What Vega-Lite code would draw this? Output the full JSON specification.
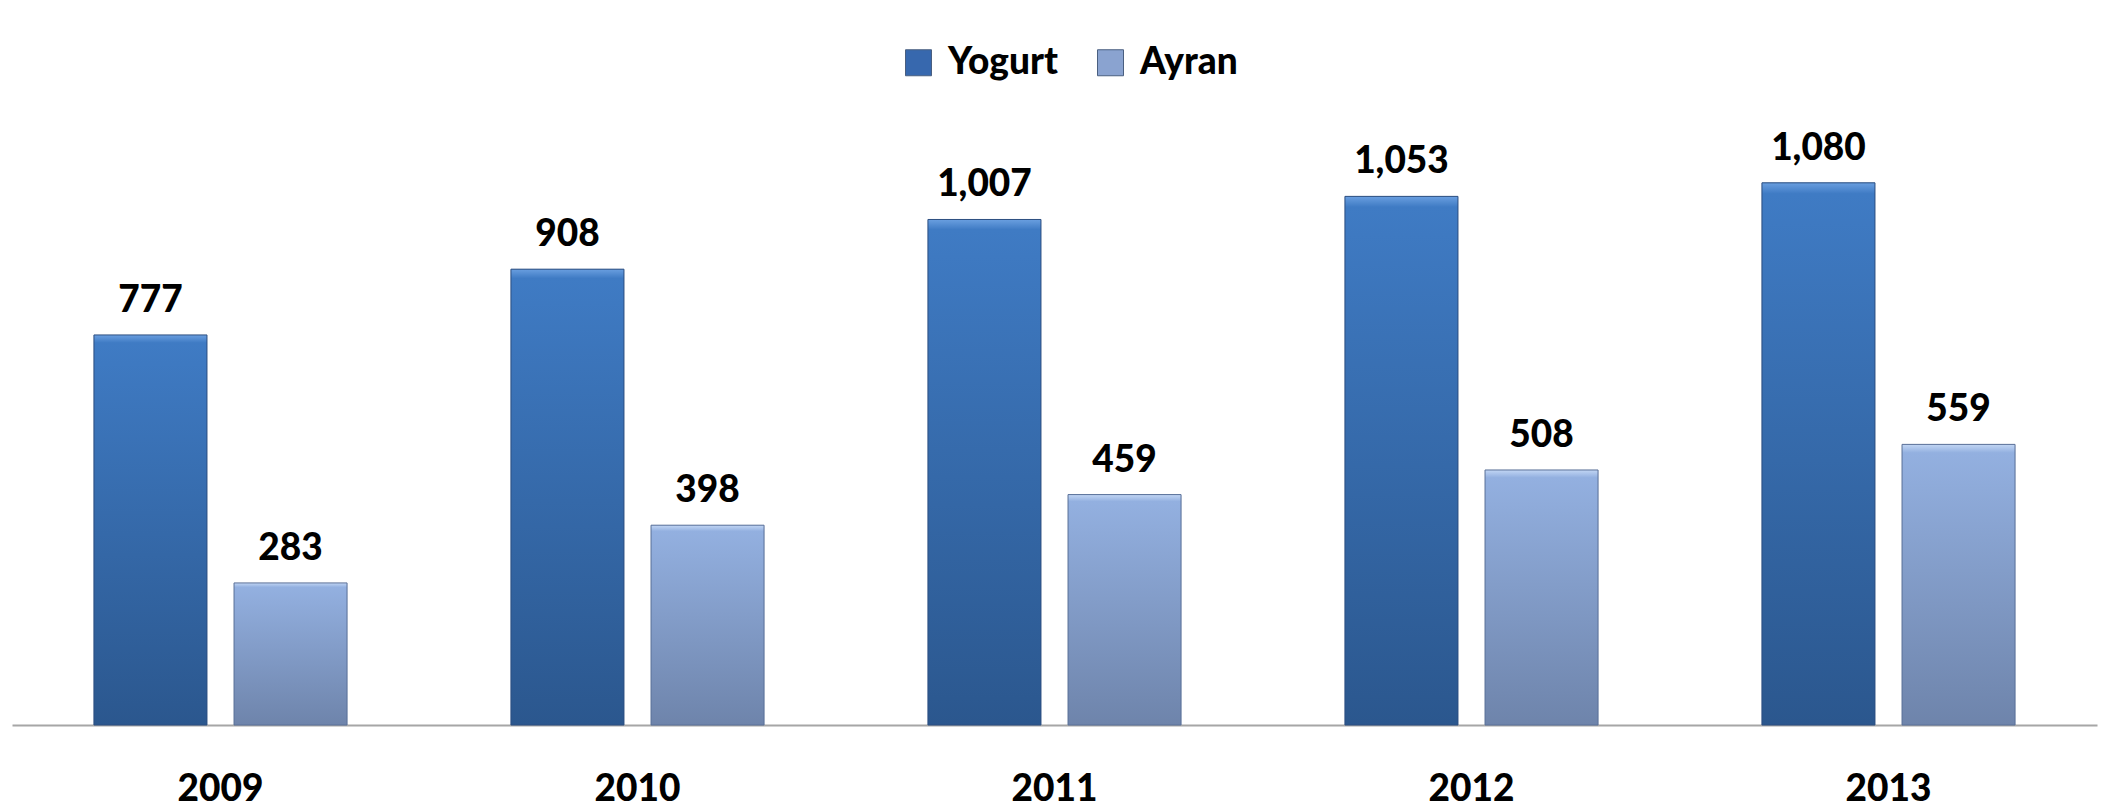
{
  "$schema": "https://vega.github.io/schema/vega-lite/v6.json",
  "width": 2085,
  "height": 625,
  "autosize": {"type": "none"},
  "padding": {"left": 12, "top": 100, "right": 10, "bottom": 87},
  "background": "white",
  "config": {"view": {"stroke": null}, "font": "Lato"},
  "data": {
    "values": [
      {"year": "2009", "product": "Yogurt", "value": 777},
      {"year": "2009", "product": "Ayran", "value": 283},
      {"year": "2010", "product": "Yogurt", "value": 908},
      {"year": "2010", "product": "Ayran", "value": 398},
      {"year": "2011", "product": "Yogurt", "value": 1007},
      {"year": "2011", "product": "Ayran", "value": 459},
      {"year": "2012", "product": "Yogurt", "value": 1053},
      {"year": "2012", "product": "Ayran", "value": 508},
      {"year": "2013", "product": "Yogurt", "value": 1080},
      {"year": "2013", "product": "Ayran", "value": 559}
    ]
  },
  "encoding": {
    "x": {
      "field": "year", "type": "nominal",
      "scale": {"paddingInner": 0.393, "paddingOuter": 0.1965},
      "axis": {
        "title": null, "labelAngle": 0, "ticks": false, "grid": false,
        "domainColor": "#a6a6a6", "domainWidth": 2,
        "labelFont": "Lato", "labelFontWeight": 900, "labelFontSize": 37,
        "labelColor": "black", "labelPadding": 46
      }
    },
    "xOffset": {
      "field": "product", "type": "nominal", "sort": ["Yogurt", "Ayran"],
      "scale": {"domain": ["Yogurt", "Ayran"], "paddingInner": 0.193, "paddingOuter": 0}
    },
    "y": {"field": "value", "type": "quantitative", "scale": {"domain": [0, 1245]}, "axis": null}
  },
  "layer": [
    {
      "mark": {"type": "bar"},
      "encoding": {
        "color": {
          "field": "product", "type": "nominal",
          "scale": {"domain": ["Yogurt", "Ayran"], "range": ["#3768AE", "#8AA3D0"]},
          "legend": {
            "title": null, "orient": "none", "legendX": 888, "legendY": -56,
            "direction": "horizontal", "symbolType": "square", "symbolSize": 676,
            "symbolStrokeColor": "#4a5f80", "symbolStrokeWidth": 1,
            "labelFont": "Lato", "labelFontSize": 37, "labelFontWeight": 900,
            "labelColor": "black", "labelOffset": 11, "columnPadding": 34
          }
        }
      }
    },
    {
      "transform": [{"filter": "datum.product === 'Yogurt'"}],
      "mark": {
        "type": "bar", "stroke": "#2d4f80", "strokeWidth": 1,
        "fill": {"gradient": "linear", "x1": 0, "y1": 0, "x2": 0, "y2": 1,
          "stops": [
            {"offset": 0, "color": "#6a9fe0"},
            {"offset": 0.02, "color": "#3f7bc4"},
            {"offset": 1, "color": "#2b578e"}
          ]}
      }
    },
    {
      "transform": [{"filter": "datum.product === 'Ayran'"}],
      "mark": {
        "type": "bar", "stroke": "#5a7098", "strokeWidth": 1,
        "fill": {"gradient": "linear", "x1": 0, "y1": 0, "x2": 0, "y2": 1,
          "stops": [
            {"offset": 0, "color": "#c2d6f4"},
            {"offset": 0.03, "color": "#93b0e0"},
            {"offset": 1, "color": "#6e84ab"}
          ]}
      }
    },
    {
      "mark": {"type": "text", "dy": -23, "baseline": "alphabetic", "font": "Lato", "fontSize": 37, "fontWeight": 900, "color": "black"},
      "encoding": {"text": {"field": "value", "type": "quantitative", "format": ","}}
    }
  ]
}
